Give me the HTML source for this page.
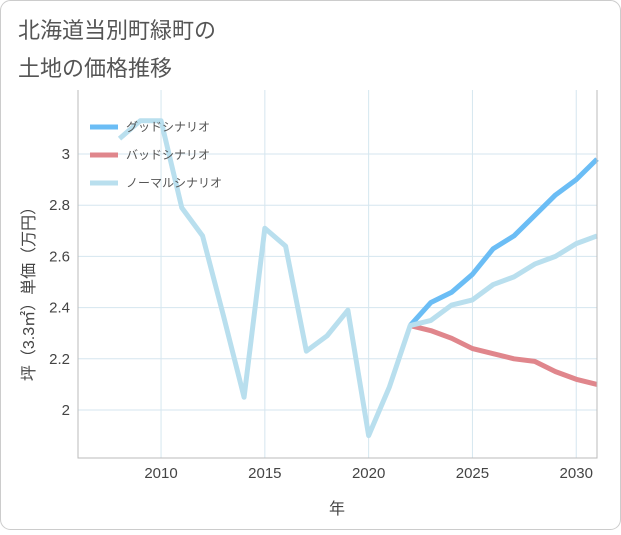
<!DOCTYPE html>
<html><head><meta charset="utf-8"><style>
body{margin:0;background:#fff;}
svg text{font-family:"Liberation Sans","Noto Sans CJK JP",sans-serif;}
</style></head><body>
<svg id="chart" width="621" height="530" xmlns="http://www.w3.org/2000/svg">
<rect x="0.5" y="0.5" width="620" height="529" rx="10" fill="#fff" stroke="#ccc"/>
<text x="18" y="38" font-size="22" fill="#555">北海道当別町緑町の</text>
<text x="18" y="76" font-size="22" fill="#555">土地の価格推移</text>
<g id="grid"></g><g id="series"></g><g id="axes"></g>
<g>
<line x1="90" y1="127" x2="118" y2="127" stroke="#6bbdf5" stroke-width="5"/><text x="126" y="131" font-size="12" fill="#555">グッドシナリオ</text>
<line x1="90" y1="155" x2="118" y2="155" stroke="#e0868c" stroke-width="5"/><text x="126" y="159" font-size="12" fill="#555">バッドシナリオ</text>
<line x1="90" y1="183" x2="118" y2="183" stroke="#b9dfee" stroke-width="5"/><text x="126" y="187" font-size="12" fill="#555">ノーマルシナリオ</text>
</g>
<text x="337" y="514" font-size="16" fill="#444" text-anchor="middle">年</text>
<text transform="translate(34,290) rotate(-90)" font-size="16" fill="#444" text-anchor="middle">坪（3.3㎡）単価（万円）</text>
</svg>
<script>
const normalYears=[2008,2009,2010,2011,2012,2013,2014,2015,2016,2017,2018,2019,2020,2021,2022,2023,2024,2025,2026,2027,2028,2029,2030,2031];
const normalValues=[3.06,3.13,3.13,2.79,2.68,2.37,2.05,2.71,2.64,2.23,2.29,2.39,1.9,2.09,2.33,2.35,2.41,2.43,2.49,2.52,2.57,2.6,2.65,2.68];
const forecastYears=[2022,2023,2024,2025,2026,2027,2028,2029,2030,2031];
const goodValues=[2.33,2.42,2.46,2.53,2.63,2.68,2.76,2.84,2.9,2.98];
const badValues=[2.33,2.31,2.28,2.24,2.22,2.2,2.19,2.15,2.12,2.1];
const xTicks=[2010,2015,2020,2025,2030];
const yTicks=[2,2.2,2.4,2.6,2.8,3];
const X0=78,X1=597,Y0=90,Y1=458,xmin=2006,xmax=2031,ymin=1.8125,ymax=3.25;
const sx=v=>X0+(v-xmin)/(xmax-xmin)*(X1-X0);
const sy=v=>Y1-(v-ymin)/(ymax-ymin)*(Y1-Y0);
const NS="http://www.w3.org/2000/svg";
function mk(tag,attrs,parent){const e=document.createElementNS(NS,tag);for(const k in attrs)e.setAttribute(k,attrs[k]);parent.appendChild(e);return e;}
const grid=document.getElementById('grid'),axes=document.getElementById('axes'),ser=document.getElementById('series');
xTicks.forEach(t=>{const l=mk('line',{x1:sx(t),x2:sx(t),y1:Y0,y2:Y1,stroke:'#d5e6ef'},grid);


const tx=mk('text',{x:sx(t),y:Y1+20,'font-size':15,fill:'#444','text-anchor':'middle'},axes);tx.textContent=t;

});
yTicks.forEach(t=>{const l=mk('line',{x1:X0,x2:X1,y1:sy(t),y2:sy(t),stroke:'#d5e6ef'},grid);


const tx=mk('text',{x:X0-8,y:sy(t)+5,'font-size':15,fill:'#444','text-anchor':'end'},axes);tx.textContent=String(t);

});
const ax=mk('path',{d:`M${X0},${Y0}V${Y1}H${X1}V${Y0}`,fill:'none',stroke:'#bbb'},axes);


function line(xs,ys,color,name){const d=xs.map((x,i)=>(i?'L':'M')+sx(x)+','+sy(ys[i])).join('');
const p=mk('path',{d:d,fill:'none',stroke:color,'stroke-width':5,'stroke-linejoin':'round'},ser);

}
line(forecastYears,badValues,'#e0868c','bad-scenario-line');
line(forecastYears,goodValues,'#6bbdf5','good-scenario-line');
line(normalYears,normalValues,'#b9dfee','normal-scenario-line');
</script>
</body></html>
